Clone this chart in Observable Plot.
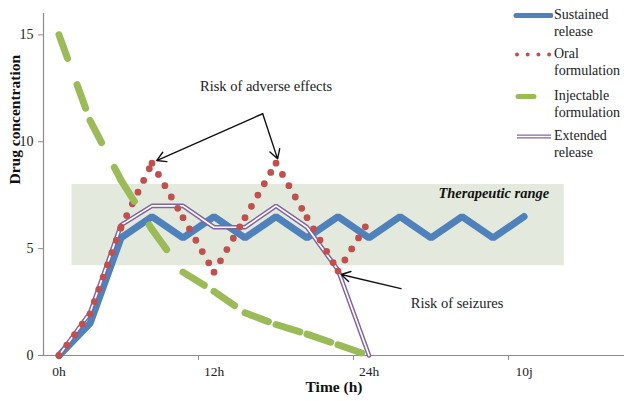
<!DOCTYPE html>
<html>
<head>
<meta charset="utf-8">
<script src="https://cdn.jsdelivr.net/npm/d3@7"></script>
<script src="https://cdn.jsdelivr.net/npm/@observablehq/plot@0.6"></script>
<style>
  body { margin: 0; background: #fff; }
  #wrap { position: relative; width: 624px; height: 401px; font-family: "Liberation Serif", serif; color: #222; }
  #legend { position: absolute; left: 0; top: 0; width: 0; height: 0; }
  .item { position: absolute; left: 511px; display: flex; align-items: flex-start; font-size: 14px; line-height: 16.5px; }
  .item svg { flex: none; margin-top: 0; }
  .item .lbl { margin-left: 1px; }
</style>
</head>
<body>
<div id="wrap"><div id="legend"></div></div>
<script>
// ---- data ----
const tickCats = [0, 5, 10, 15];
const tickLabels = ["0h", "12h", "24h", "10j"];
const tickBounds = [4.5, 9.5, 14.5];
const sustained = [0, 1.5, 5.5, 6.5, 5.5, 6.5, 5.5, 6.5, 5.5, 6.5, 5.5, 6.5, 5.5, 6.5, 5.5, 6.5];
const oral = [0, 1.95, 6.0, 9.0, 6.45, 3.9, 6.45, 9.0, 6.45, 3.95, 6.3];
const injectable = [15, 11, 8.2, 5.9, 3.9, 3.0, 2.0, 1.45, 1.0, 0.5, 0];
const extended = [0, 2.0, 6.1, 7.0, 7.0, 6.0, 6.0, 7.0, 6.0, 4.0, 0];
const seriesNames = ["Sustained release", "Oral formulation", "Injectable formulation", "Extended release"];
const seriesColors = ["#4F81BD", "#C0504D", "#9BBB59", "#8064A2"];
const therapeutic = [{x1: 0.42, x2: 16.3, y1: 4.2, y2: 8.0}];
const notes = [
  {x: 6.68, y: 12.58, text: "Risk of adverse effects", anchor: "middle", style: "normal"},
  {x: 12.84, y: 2.43, text: "Risk of seizures", anchor: "middle", style: "normal"},
  {x: 15.81, y: 7.58, text: "Therapeutic range", anchor: "end", style: "bolditalic"}
];
const arrows = [
  {x1: 6.57, y1: 11.31, x2: 3.15, y2: 9.12},
  {x1: 6.57, y1: 11.31, x2: 7.05, y2: 9.2},
  {x1: 11.03, y1: 3.13, x2: 9.1, y2: 3.79}
];

// ---- helpers ----
const pts = arr => arr.map((v, i) => ({k: i, v}));
const segs = arr => arr.slice(0, -1).flatMap((v, i) => [
  {k: i, v, s: i}, {k: i + 1, v: arr[i + 1], s: i}
]);

const chart = Plot.plot({
  width: 624,
  height: 401,
  marginLeft: 43,
  marginRight: 0,
  marginTop: 13,
  marginBottom: 46,
  x: {domain: [-0.5, 18.24]},
  y: {domain: [0, 16]},
  style: {fontFamily: "Liberation Serif", fontSize: "13.5px", background: "white", color: "#222"},
  marks: [
    Plot.rect(therapeutic, {x1: "x1", x2: "x2", y1: "y1", y2: "y2", fill: "#E3EADD"}),
    Plot.ruleY([0], {stroke: "#8c8c8c", strokeWidth: 1.2}),
    Plot.ruleX([-0.5], {stroke: "#8c8c8c", strokeWidth: 1.2}),
    Plot.axisY({ticks: [0, 5, 10, 15], tickSize: 5, tickPadding: 5, stroke: "#8c8c8c", fill: "#222", fontSize: 14}),
    Plot.axisX({ticks: tickCats, tickSize: 0, tickPadding: 11, tickFormat: d => tickLabels[tickCats.indexOf(d)], fill: "#222", fontSize: 13.5}),
    Plot.axisX({ticks: tickBounds, tickSize: 5, tickFormat: () => "", stroke: "#8c8c8c"}),
    Plot.text(["Time (h)"], {frameAnchor: "bottom", dy: 36, fontWeight: "bold", fontSize: 15.5, fill: "#111"}),
    Plot.text(["Drug concentration"], {frameAnchor: "left", dx: -28, rotate: -90, fontWeight: "bold", fontSize: 15.5, fill: "#111"}),
    // Sustained release
    Plot.line(pts(sustained), {x: "k", y: "v", stroke: seriesColors[0], strokeWidth: 7, strokeLinejoin: "miter"}),
    // Extended release (double line)
    Plot.line(pts(extended), {x: "k", y: "v", stroke: seriesColors[3], strokeWidth: 4.6, strokeLinejoin: "miter"}),
    Plot.line(pts(extended), {x: "k", y: "v", stroke: "white", strokeWidth: 1.7, strokeLinejoin: "miter"}),
    // Oral formulation (round dots, pattern restarts each segment)
    Plot.line(segs(oral), {x: "k", y: "v", z: "s", stroke: seriesColors[1], strokeWidth: 6.8, strokeLinecap: "round", strokeDasharray: "0,13"}),
    // Injectable formulation (long dashes)
    Plot.line(segs(injectable), {x: "k", y: "v", z: "s", stroke: seriesColors[2], strokeWidth: 7, strokeLinecap: "round", strokeDasharray: "25,28"}),
    // annotations
    Plot.arrow(arrows, {x1: "x1", y1: "y1", x2: "x2", y2: "y2", stroke: "#111", strokeWidth: 1.4, headLength: 11}),
    Plot.text(notes.filter(d => d.style === "normal"), {x: "x", y: "y", text: "text", fontSize: 14.5, fill: "#222"}),
    Plot.text(notes.filter(d => d.style !== "normal"), {x: "x", y: "y", text: "text", textAnchor: "end", fontSize: 14.5, fontWeight: "bold", fontStyle: "italic", fill: "#111"})
  ]
});
document.getElementById("wrap").prepend(chart);

// ---- legend (HTML overlay) ----
const legendTops = [7, 46, 88, 128];
const swatch = i => {
  const ns = "http://www.w3.org/2000/svg";
  const svg = document.createElementNS(ns, "svg");
  svg.setAttribute("width", 42); svg.setAttribute("height", 17);
  const line = (x1, x2, c, w, extra = {}) => {
    const l = document.createElementNS(ns, "line");
    Object.entries({x1, x2, y1: 8.5, y2: 8.5, stroke: c, "stroke-width": w, ...extra}).forEach(([k, v]) => l.setAttribute(k, v));
    svg.appendChild(l);
  };
  if (i === 0) line(5, 40, seriesColors[0], 5, {"stroke-linecap": "round"});
  if (i === 1) line(6, 39, seriesColors[1], 4, {"stroke-linecap": "round", "stroke-dasharray": "0,10.7"});
  if (i === 2) line(7, 23, seriesColors[2], 5, {"stroke-linecap": "round"});
  if (i === 3) { line(6, 40, seriesColors[3], 4.2); line(6, 40, "white", 1.5); }
  return svg;
};
seriesNames.forEach((name, i) => {
  const div = document.createElement("div");
  div.className = "item";
  div.style.top = legendTops[i] + "px";
  div.appendChild(swatch(i));
  const lbl = document.createElement("div");
  lbl.className = "lbl";
  const words = name.split(" ");
  lbl.innerHTML = words[0] + "<br>" + words.slice(1).join(" ");
  div.appendChild(lbl);
  document.getElementById("legend").appendChild(div);
});
</script>
</body>
</html>
